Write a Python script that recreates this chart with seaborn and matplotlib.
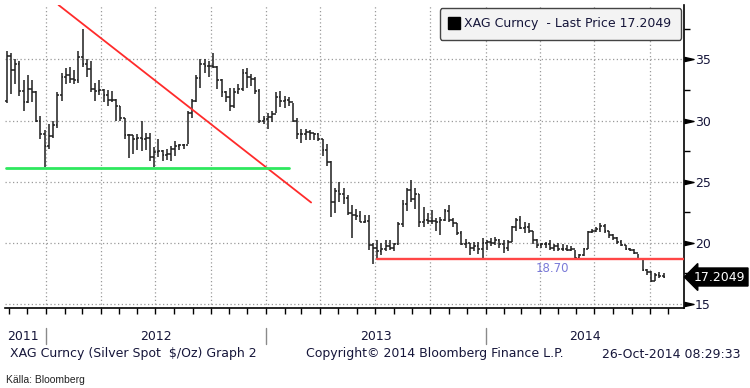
import matplotlib
matplotlib.use("Agg")
import matplotlib.pyplot as plt
import matplotlib.dates as mdates
from matplotlib.lines import Line2D
from matplotlib.path import Path
import numpy as np
import pandas as pd
import seaborn as sns

# ---------------- data (weekly bars, XAG Curncy) ----------------
first_week = "2011-10-28"
first_open = 31.6
last_price = 17.2049

highs = [
    35.7, 35.5, 35.0, 34.9, 33.3, 33.7, 33.3, 32.4, 30.4, 29.2,
    29.7, 30.0, 32.3, 33.9, 34.3, 34.4, 34.1, 35.7, 37.5, 35.0,
    34.9, 33.1, 33.3, 32.6, 32.5, 32.4, 31.8, 31.2, 30.2, 28.9,
    28.8, 28.9, 30.0, 29.0, 29.0, 27.8, 28.5, 27.6, 27.7, 27.9,
    28.3, 28.1, 28.1, 30.8, 31.8, 33.7, 35.0, 35.0, 34.9, 35.5,
    34.5, 33.4, 32.4, 32.7, 32.7, 33.0, 34.2, 34.3, 33.8, 33.6,
    32.6, 30.4,
    30.6, 30.8, 32.3, 32.4, 32.0, 31.9, 31.4, 30.2, 29.3, 29.3,
    29.2, 29.0, 29.0, 28.5, 28.1, 26.7, 24.5, 25.0, 24.5, 23.9,
    23.1, 22.8, 22.6, 22.3, 22.3, 20.0, 20.2, 20.0, 20.2, 20.2,
    20.0, 21.7, 23.5, 24.5, 25.1, 24.5, 24.0, 22.9, 22.4, 22.7,
    22.0, 22.1, 22.8, 23.1, 22.0, 21.6, 21.0, 20.3, 20.0, 20.1,
    20.1, 20.4,
    20.2, 20.4, 20.5, 20.3, 20.2, 20.2, 21.4, 22.0, 22.2, 21.7,
    21.6, 21.0, 20.3, 20.0, 20.1, 20.2, 19.9, 20.0, 19.9, 19.8,
    19.7, 19.4, 19.1, 19.6, 21.0, 21.1, 21.3, 21.6, 21.5, 21.0,
    20.7, 20.5, 20.2, 19.8, 19.6, 19.5, 19.1, 18.7, 17.9, 17.7,
    17.5, 17.6, 17.5,
]
lows = [
    31.4, 32.2, 33.0, 32.0, 30.8, 31.4, 31.5, 29.9, 28.5, 26.2,
    27.7, 28.6, 29.4, 31.6, 33.0, 33.1, 33.0, 33.1, 34.4, 33.6,
    32.3, 31.6, 32.1, 31.5, 31.2, 31.5, 30.0, 30.0, 28.5, 26.9,
    27.3, 27.6, 27.5, 27.6, 26.7, 26.2, 27.0, 26.7, 26.8, 26.7,
    27.1, 27.6, 27.7, 28.1, 30.2, 31.5, 32.7, 33.9, 33.6, 34.3,
    32.6, 31.9, 31.5, 30.8, 31.0, 32.2, 32.4, 32.7, 32.8, 32.2,
    29.8, 29.7,
    29.3, 29.9, 30.6, 31.1, 31.0, 31.2, 29.9, 28.5, 28.2, 28.4,
    28.4, 28.4, 28.3, 27.1, 26.3, 22.1, 22.4, 23.3, 23.2, 22.3,
    20.4, 21.9, 21.7, 21.6, 19.4, 18.3, 18.7, 19.0, 19.3, 19.4,
    19.3, 19.8, 21.3, 22.6, 23.3, 22.8, 21.3, 21.3, 21.5, 21.5,
    21.0, 20.6, 21.8, 21.7, 21.3, 20.6, 19.8, 19.6, 19.0, 19.3,
    19.1, 18.8,
    19.4, 19.7, 19.8, 19.6, 19.2, 19.3, 20.1, 21.0, 21.1, 20.8,
    20.8, 19.9, 19.6, 19.6, 19.6, 19.4, 19.3, 19.3, 19.3, 19.3,
    19.3, 18.8, 18.7, 18.9, 19.5, 20.8, 20.9, 20.9, 20.8, 20.4,
    20.2, 19.9, 19.7, 19.4, 19.3, 19.1, 18.6, 17.7, 17.4, 16.8,
    16.9, 17.1, 17.1,
]
closes = [
    35.3, 34.1, 34.6, 32.4, 31.5, 32.6, 32.3, 30.0, 28.9, 27.9,
    28.7, 29.6, 32.1, 33.6, 33.7, 33.4, 33.3, 35.2, 34.6, 34.2,
    32.6, 32.4, 32.5, 32.1, 31.7, 31.7, 31.2, 30.2, 28.8, 28.8,
    28.5, 28.6, 28.5, 28.6, 27.0, 27.4, 27.5, 27.2, 27.3, 27.7,
    27.9, 28.0, 28.0, 30.6, 31.6, 33.5, 34.6, 34.5, 34.5, 34.4,
    33.3, 32.3, 31.9, 31.2, 32.3, 32.6, 33.9, 33.6, 33.4, 32.4,
    30.0, 30.1,
    30.3, 30.5, 31.9, 31.6, 31.7, 31.5, 30.0, 28.9, 28.9, 29.1,
    29.0, 28.9, 28.5, 27.6, 26.6, 23.3, 24.2, 24.0, 23.7, 22.4,
    22.3, 22.2, 21.7, 21.8, 19.8, 19.6, 19.3, 19.5, 19.7, 19.6,
    19.9, 21.5, 23.2, 24.3, 23.6, 24.0, 21.7, 21.9, 21.8, 21.8,
    21.7, 21.9, 22.6, 21.9, 21.6, 20.8, 19.9, 20.0, 19.6, 19.7,
    19.5, 20.0,
    20.1, 20.0, 20.2, 19.9, 19.6, 20.1, 21.3, 21.9, 21.2, 21.3,
    21.0, 20.2, 19.8, 19.9, 19.9, 19.6, 19.7, 19.5, 19.5, 19.4,
    19.5, 18.8, 19.0, 19.5, 20.9, 21.0, 21.1, 21.4, 21.0, 20.6,
    20.4, 20.1, 19.8, 19.5, 19.4, 19.2, 18.7, 17.8, 17.6, 16.9,
    17.4, 17.3, 17.2,
]

# analyst lines
trend_dates = ["2012-01-22", "2013-03-17"]
trend_values = [39.45, 23.3]
support_dates = ["2011-10-27", "2013-02-09"]
support_values = [26.15, 26.15]
floor_dates = ["2013-07-04", "2014-11-27"]
floor_values = [18.70, 18.70]
floor_label = "18.70"

y_major = [15, 20, 25, 30, 35]
y_minor = [17.5, 22.5, 27.5, 32.5, 37.5]
year_labels = ["2011", "2012", "2013", "2014"]

legend_text = "XAG Curncy  - Last Price 17.2049"
footer_left = "XAG Curncy (Silver Spot  $/Oz) Graph 2"
footer_mid = "Copyright\u00a9 2014 Bloomberg Finance L.P."
footer_right = "26-Oct-2014 08:29:33"
source_text = "K\u00e4lla: Bloomberg"

# ---------------- style ----------------
sns.set_theme(style="white")
plt.rcParams["font.family"] = ["DejaVu Sans"]
TXT = "#16163a"

W, H = 750, 388
fig = plt.figure(figsize=(W / 100, H / 100), dpi=100)
fig.patch.set_facecolor("white")
ax_l, ax_r, ax_t, ax_b = 5, 684, 5, 308
ax = fig.add_axes([ax_l / W, 1 - ax_b / H, (ax_r - ax_l) / W, (ax_b - ax_t) / H])
ax.set_facecolor("white")

dates = pd.date_range(first_week, periods=len(closes), freq="7D")
x = mdates.date2num(dates.to_pydatetime())
opens = [first_open] + closes[:-1]
tick_w = 3.0

ax.vlines(x, lows, highs, color="#1e1e1e", lw=1.1, zorder=3)
ax.hlines(opens, x - tick_w, x, color="#1e1e1e", lw=1.1, zorder=3)
ax.hlines(closes, x, x + tick_w, color="#1e1e1e", lw=1.1, zorder=3)

# reference lines via seaborn
def to_num(ds):
    return mdates.date2num(pd.to_datetime(ds).to_pydatetime())

lines_df = pd.DataFrame({
    "x": np.concatenate([to_num(trend_dates), to_num(support_dates), to_num(floor_dates)]),
    "y": trend_values + support_values + floor_values,
    "line": ["trend"] * 2 + ["support"] * 2 + ["floor"] * 2,
})
sns.lineplot(data=lines_df[lines_df.line == "trend"], x="x", y="y", color="#ff2b2b",
             lw=1.3, ax=ax, legend=False, zorder=4)
sns.lineplot(data=lines_df[lines_df.line == "support"], x="x", y="y", color="#2ee85e",
             lw=2.0, ax=ax, legend=False, zorder=4)
sns.lineplot(data=lines_df[lines_df.line == "floor"], x="x", y="y", color="#ff4646",
             lw=1.7, ax=ax, legend=False, zorder=4)
ax.text(to_num(["2014-04-22"])[0], 17.86, floor_label, color="#7a7ad8",
        fontsize=8.5, ha="center", va="center", zorder=5)

# limits
x_left = to_num(["2011-10-25"])[0]
x_right = to_num(["2014-11-27"])[0]
ax.set_xlim(x_left, x_right)
ax.set_ylim(14.67, 39.45)
ax.set_xlabel("")
ax.set_ylabel("")

# spines
for s in ["left", "top"]:
    ax.spines[s].set_visible(False)
for s in ["right", "bottom"]:
    ax.spines[s].set_visible(True)
    ax.spines[s].set_color("black")
    ax.spines[s].set_linewidth(1.2)

# x axis: quarterly grid, monthly ticks, no labels
ax.xaxis.set_major_locator(mdates.MonthLocator(bymonth=[1, 4, 7, 10]))
ax.xaxis.set_minor_locator(mdates.MonthLocator())
ax.xaxis.set_major_formatter(plt.NullFormatter())
ax.xaxis.set_minor_formatter(plt.NullFormatter())
ax.tick_params(axis="x", which="both", direction="out", length=4, width=1,
               color="black", bottom=True)

# y axis on right
ax.yaxis.tick_right()
ax.set_yticks(y_major)
ax.set_yticks(y_minor, minor=True)
ax.set_yticklabels([str(v) for v in y_major])
ax.tick_params(axis="y", which="major", length=0, pad=8, labelsize=9,
               labelcolor=TXT, right=True, left=False)
ax.tick_params(axis="y", which="minor", length=4, width=1, color="black",
               right=True, left=False)
tri = Path([(-1, 0.45), (1, 0), (-1, -0.45), (-1, 0.45)],
           [Path.MOVETO, Path.LINETO, Path.LINETO, Path.CLOSEPOLY])
ax.plot(np.full(len(y_major), 1 + 4.5 / (ax_r - ax_l)), y_major, ls="none",
        marker=tri, ms=6.5, color="black", transform=ax.get_yaxis_transform(),
        clip_on=False, zorder=6)

# grid
ax.grid(False)
for v in ax.xaxis.get_majorticklocs():
    if x_left < v < x_right:
        ax.axvline(v, color="#9a9a9a", lw=0.9, ls=(0, (1, 2)), zorder=1)
for v in y_major:
    ax.axhline(v, color="#9a9a9a", lw=0.9, ls=(0, (1, 2)), zorder=1)

# last price tag
ax.annotate(f"{last_price:.4f}", xy=(1.0, last_price), xycoords=ax.get_yaxis_transform(),
            xytext=(10, 0), textcoords="offset pixels", ha="left", va="center",
            color="white", fontsize=9, annotation_clip=False,
            bbox=dict(boxstyle="larrow,pad=0.2", fc="black", ec="black"))

# legend
handle = Line2D([], [], marker="s", color="black", ls="none", ms=8)
leg = ax.legend([handle], [legend_text], loc="upper right",
                bbox_to_anchor=(681 / W, 1 - 8 / H), bbox_transform=fig.transFigure,
                borderaxespad=0, frameon=True, fancybox=True, fontsize=9,
                handlelength=0.8, handletextpad=0.45, borderpad=0.75)
leg.get_frame().set_edgecolor("#444444")
leg.get_frame().set_facecolor("#f3f3f3")
leg.get_frame().set_linewidth(1.0)
leg.get_frame().set_alpha(1)
for t in leg.get_texts():
    t.set_color(TXT)

# year labels and separators
xt = ax.get_xaxis_transform()
y_lab = (ax_b - 336) / (ax_b - ax_t)
y_sep0 = (ax_b - 328) / (ax_b - ax_t)
y_sep1 = (ax_b - 344) / (ax_b - ax_t)
jan12, jan13, jan14 = to_num(["2012-01-01", "2013-01-01", "2014-01-01"])
centers = [x_left + 3, (jan12 + jan13) / 2, (jan13 + jan14) / 2, (jan14 + x_right) / 2]
aligns = ["left", "center", "center", "center"]
for lab, c, a in zip(year_labels, centers, aligns):
    ax.text(c, y_lab, lab, transform=xt, ha=a, va="center", fontsize=9, color=TXT,
            clip_on=False)
for b in [jan12, jan13, jan14]:
    ax.plot([b, b], [y_sep0, y_sep1], transform=xt, color="#8a8a8a", lw=1,
            clip_on=False)

# footer
fy = 1 - 354 / H
fig.text(10 / W, fy, footer_left, fontsize=9, color=TXT, ha="left", va="center")
fig.text(306 / W, fy, footer_mid, fontsize=9, color=TXT, ha="left", va="center")
fig.text(741 / W, fy, footer_right, fontsize=9, color=TXT, ha="right", va="center")
fig.text(6 / W, 1 - 380 / H, source_text, fontsize=7.5,
         family=["Liberation Sans Narrow", "Liberation Sans", "DejaVu Sans"],
         color="#222222", ha="left", va="center")

fig.savefig("out.png", dpi=100, facecolor="white")
